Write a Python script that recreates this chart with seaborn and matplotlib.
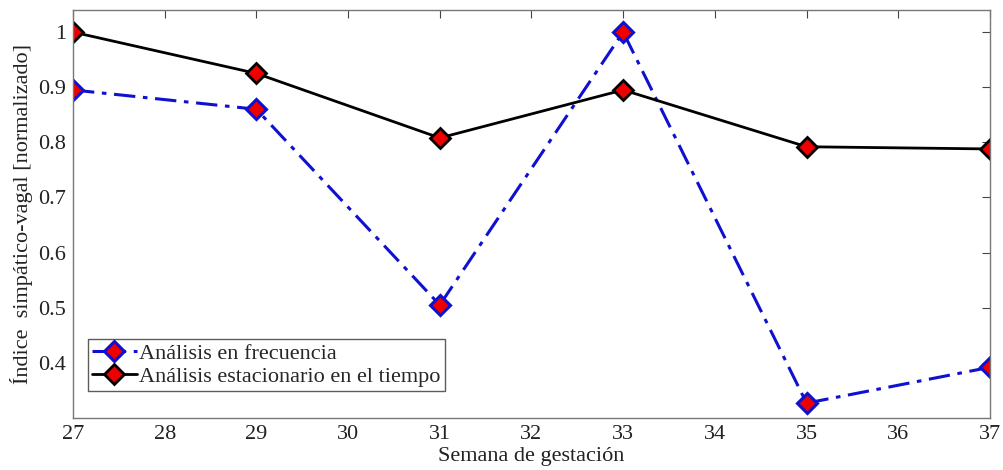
import matplotlib
matplotlib.use("Agg")
import matplotlib.pyplot as plt
import seaborn as sns
import pandas as pd
from matplotlib.ticker import FuncFormatter

semanas = [27, 29, 31, 33, 35, 37]
frecuencia = [0.895, 0.860, 0.505, 1.000, 0.327, 0.392]
estacionario = [1.000, 0.925, 0.808, 0.895, 0.792, 0.788]
etiquetas = ["Análisis en frecuencia", "Análisis estacionario en el tiempo"]
x_ticks = list(range(27, 38))
y_ticks = [0.4, 0.5, 0.6, 0.7, 0.8, 0.9, 1.0]

sns.set_style("white")
plt.rcParams['font.family'] = ['Liberation Serif', 'DejaVu Serif']

fig = plt.figure(figsize=(10.04, 4.70), dpi=100)
ax = fig.add_axes([0.0727, 0.1106, 0.9133, 0.8681])

df1 = pd.DataFrame({"x": semanas, "y": frecuencia})
df2 = pd.DataFrame({"x": semanas, "y": estacionario})

sns.lineplot(data=df1, x="x", y="y", ax=ax, color="#1010d0", linewidth=2.2,
             marker="D", markersize=10, markerfacecolor="#ee0000",
             markeredgecolor="#1010d0", markeredgewidth=2.2, label=etiquetas[0])
ax.lines[-1].set_linestyle((0, (7, 2.5, 1.5, 2.5)))
sns.lineplot(data=df2, x="x", y="y", ax=ax, color="black", linewidth=2.0,
             marker="D", markersize=10, markerfacecolor="#ee0000",
             markeredgecolor="black", markeredgewidth=2.0, label=etiquetas[1])

ax.set_xlim(27, 37)
ax.set_ylim(0.3, 1.04)
ax.set_xticks(x_ticks)
ax.set_yticks(y_ticks)
ax.yaxis.set_major_formatter(FuncFormatter(lambda v, p: f"{v:g}"))
ax.tick_params(direction="in", length=6, width=0.8, color="#444444",
               labelsize=16, labelcolor="#222222", top=True, right=True,
               pad=5)
for s in ax.spines.values():
    s.set_color("#777777")
    s.set_linewidth(1.0)

ax.set_xlabel("Semana de gestación", fontsize=16, color="#222222", labelpad=2)
ax.set_ylabel("Índice  simpático-vagal [normalizado]", fontsize=16,
              color="#222222", labelpad=4)

leg = ax.legend(loc="lower left", bbox_to_anchor=(0.016, 0.065), fontsize=16,
                frameon=True, fancybox=False, handlelength=2.0,
                handletextpad=0.1, borderpad=0.2, labelspacing=0.1,
                borderaxespad=0)
leg.get_frame().set_edgecolor("#333333")
leg.get_frame().set_linewidth(1.0)

fig.savefig("out.png", dpi=100)
